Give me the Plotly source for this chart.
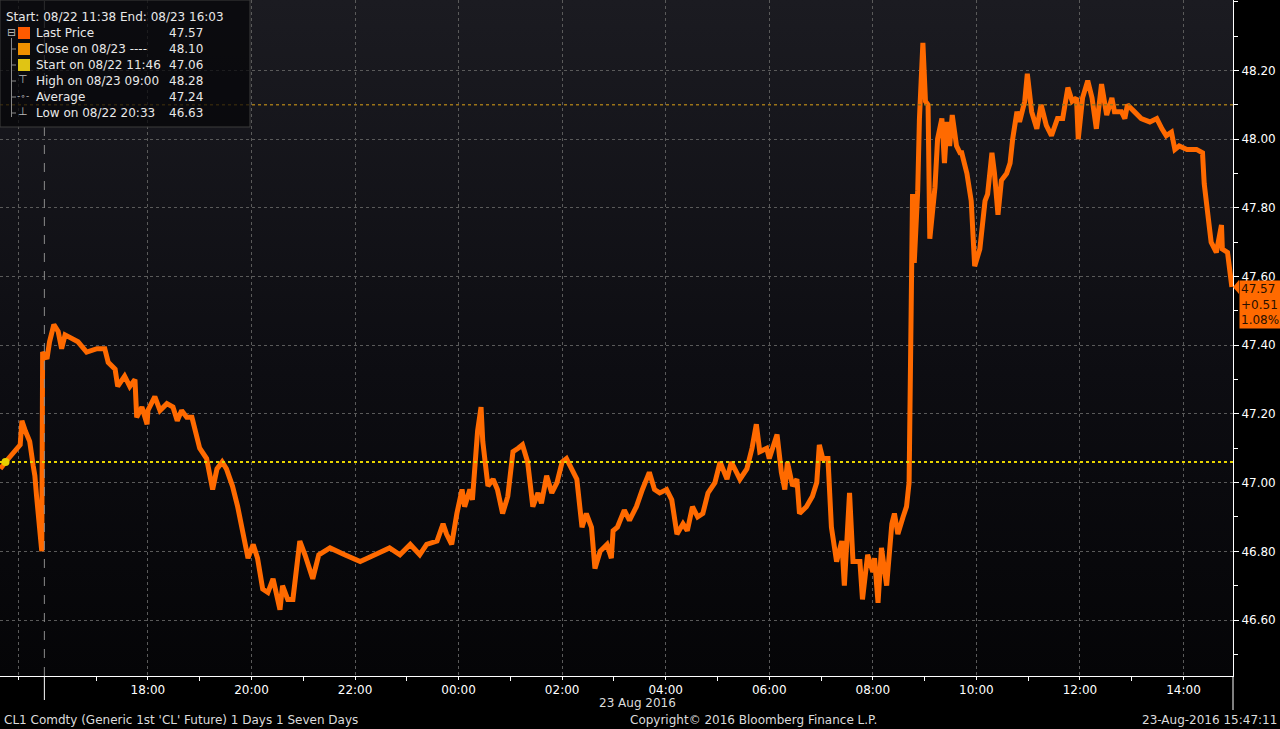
import base64
import plotly.graph_objects as go

# ---------------- data ----------------
DAY1 = "2016-08-22"
DAY2 = "2016-08-23"

times_aug22 = ["15:09", "15:15", "15:32", "15:34", "15:38", "15:43", "15:47", "15:49", "15:51", "15:54",
               "15:57", "15:58", "16:03", "16:06", "16:11", "16:16", "16:20", "16:24", "16:32", "16:39",
               "16:49", "17:01", "17:10", "17:14", "17:22", "17:25", "17:33", "17:39", "17:45", "17:47",
               "17:53", "17:59", "18:00", "18:08", "18:14", "18:22", "18:29", "18:34", "18:39", "18:45",
               "18:51", "18:54", "19:00", "19:08", "19:15", "19:20", "19:26", "19:31", "19:38", "19:44",
               "19:52", "19:56", "20:02", "20:07", "20:13", "20:19", "20:25", "20:33", "20:36", "20:42",
               "20:48", "20:56", "21:02", "21:11", "21:18", "21:31", "21:48", "22:06", "22:23", "22:40",
               "22:52", "23:04", "23:15", "23:23", "23:35", "23:42", "23:46", "23:52", "23:58"]
prices_aug22 = [47.04, 47.06, 47.11, 47.18, 47.15, 47.12, 47.05, 47.02, 46.96, 46.89,
                46.80, 47.38, 47.36, 47.41, 47.46, 47.44, 47.39, 47.43, 47.42, 47.41,
                47.38, 47.39, 47.39, 47.35, 47.33, 47.28, 47.31, 47.28, 47.30, 47.19,
                47.22, 47.17, 47.21, 47.25, 47.21, 47.23, 47.22, 47.18, 47.21, 47.19,
                47.19, 47.16, 47.10, 47.07, 46.98, 47.04, 47.06, 47.04, 46.99, 46.93,
                46.83, 46.78, 46.82, 46.78, 46.69, 46.68, 46.72, 46.63, 46.70, 46.66,
                46.66, 46.83, 46.79, 46.72, 46.79, 46.81, 46.79, 46.77, 46.79, 46.81,
                46.79, 46.82, 46.79, 46.82, 46.83, 46.88, 46.85, 46.82, 46.91]

times_aug23 = ["00:04", "00:07", "00:13", "00:16", "00:22", "00:26", "00:28", "00:34", "00:40", "00:45",
               "00:51", "00:57", "01:03", "01:09", "01:14", "01:20", "01:26", "01:32", "01:36", "01:42",
               "01:48", "01:54", "02:00", "02:05", "02:11", "02:17", "02:23", "02:28", "02:34", "02:38",
               "02:44", "02:52", "02:57", "02:59", "03:04", "03:12", "03:18", "03:26", "03:33", "03:41",
               "03:47", "03:53", "04:01", "04:07", "04:13", "04:20", "04:25", "04:31", "04:37", "04:43",
               "04:49", "04:57", "05:03", "05:11", "05:16", "05:20", "05:26", "05:34", "05:40", "05:45",
               "05:49", "05:57", "06:00", "06:09", "06:14", "06:18", "06:21", "06:27", "06:32", "06:35",
               "06:43", "06:50", "06:55", "06:58", "07:02", "07:08", "07:12", "07:18", "07:24", "07:27",
               "07:33", "07:37", "07:45", "07:48", "07:54", "08:00", "08:02", "08:06", "08:10", "08:16",
               "08:22", "08:25", "08:29", "08:35", "08:39", "08:42", "08:43", "08:44", "08:46", "08:48",
               "08:52", "08:54", "08:58", "09:01", "09:04", "09:06", "09:12", "09:15", "09:20", "09:23",
               "09:26", "09:29", "09:32", "09:37", "09:41", "09:43", "09:49", "09:54", "09:58", "10:04",
               "10:10", "10:13", "10:18", "10:21", "10:25", "10:29", "10:35", "10:39", "10:42", "10:47",
               "10:50", "10:56", "10:59", "11:04", "11:10", "11:15", "11:21", "11:27", "11:34", "11:40",
               "11:46", "11:51", "11:56", "11:58", "12:03", "12:09", "12:14", "12:19", "12:25", "12:31",
               "12:37", "12:40", "12:48", "12:52", "12:55", "13:03", "13:11", "13:21", "13:29", "13:35",
               "13:40", "13:46", "13:50", "13:55", "14:04", "14:15", "14:22", "14:24", "14:28", "14:32",
               "14:38", "14:44", "14:45", "14:51", "14:56"]
prices_aug23 = [46.98, 46.93, 46.98, 46.95, 47.15, 47.22, 47.12, 46.99, 47.01, 46.98,
                46.91, 46.96, 47.09, 47.10, 47.11, 47.06, 46.93, 46.97, 46.94, 47.02,
                46.97, 47.00, 47.06, 47.07, 47.04, 47.01, 46.87, 46.91, 46.87, 46.75,
                46.80, 46.82, 46.78, 46.86, 46.87, 46.92, 46.89, 46.93, 46.98, 47.03,
                46.98, 46.97, 46.98, 46.95, 46.85, 46.88, 46.86, 46.93, 46.90, 46.91,
                46.97, 47.00, 47.06, 47.01, 47.06, 47.04, 47.01, 47.04, 47.10, 47.17,
                47.09, 47.10, 47.07, 47.14, 47.03, 46.98, 47.06, 46.99, 47.01, 46.91,
                46.93, 46.96, 47.00, 47.11, 47.07, 47.07, 46.87, 46.77, 46.83, 46.70,
                46.97, 46.77, 46.77, 46.66, 46.79, 46.74, 46.78, 46.65, 46.81, 46.70,
                46.88, 46.91, 46.85, 46.90, 46.93, 47.00, 47.24, 47.53, 47.84, 47.64,
                47.85, 48.06, 48.28, 48.11, 48.10, 47.71, 47.86, 48.00, 48.06, 47.93,
                48.05, 47.98, 48.07, 47.98, 47.96, 47.96, 47.90, 47.82, 47.63, 47.68,
                47.82, 47.84, 47.96, 47.90, 47.78, 47.88, 47.90, 47.93, 48.00, 48.08,
                48.05, 48.11, 48.19, 48.08, 48.03, 48.10, 48.04, 48.01, 48.06, 48.06,
                48.15, 48.11, 48.12, 48.00, 48.12, 48.17, 48.12, 48.03, 48.16, 48.07,
                48.12, 48.08, 48.08, 48.06, 48.10, 48.08, 48.06, 48.05, 48.06, 48.03,
                48.01, 48.02, 47.97, 47.98, 47.97, 47.97, 47.96, 47.87, 47.77, 47.70,
                47.67, 47.75, 47.68, 47.67, 47.57]

start_time = "2016-08-22 15:15"
start_price = 47.06
close_price = 48.10
session_break = "2016-08-22 16:00"

y_tick_values = [46.60, 46.80, 47.00, 47.20, 47.40, 47.60, 47.80, 48.00, 48.20]
x_tick_times = ["2016-08-22 15:30", "2016-08-22 18:00", "2016-08-22 20:00", "2016-08-22 22:00",
                "2016-08-23 00:00", "2016-08-23 02:00", "2016-08-23 04:00", "2016-08-23 06:00",
                "2016-08-23 08:00", "2016-08-23 10:00", "2016-08-23 12:00", "2016-08-23 14:00"]
x_tick_labels = ["", "18:00", "20:00", "22:00", "00:00", "02:00", "04:00", "06:00",
                 "08:00", "10:00", "12:00", "14:00"]
x_minor_times = ["2016-08-22 17:00", "2016-08-22 19:00", "2016-08-22 21:00", "2016-08-22 23:00",
                 "2016-08-23 01:00", "2016-08-23 03:00", "2016-08-23 05:00", "2016-08-23 07:00",
                 "2016-08-23 09:00", "2016-08-23 11:00", "2016-08-23 13:00"]

legend_title = "Start: 08/22 11:38 End: 08/23 16:03"
legend_labels = ["Last Price", "Close on 08/23 ----", "Start on 08/22 11:46",
                 "High on 08/23 09:00", "Average", "Low on 08/22 20:33"]
legend_values = ["47.57", "48.10", "47.06", "48.28", "47.24", "46.63"]
last_box_text = ["47.57", "+0.51", "1.08%"]

footer_left = "CL1 Comdty (Generic 1st 'CL' Future) 1 Days 1 Seven Days"
footer_mid = "Copyright\u00a9 2016 Bloomberg Finance L.P."
footer_right = "23-Aug-2016 15:47:11"
date_label = "23 Aug 2016"

# ---------------- layout geometry ----------------
W, H = 1280, 729
ML, MR, MT, MB = 0, 47, 0, 53
PW, PH = W - ML - MR, H - MT - MB
FONT = "DejaVu Sans"
ORANGE = "#ff6a00"


def px(x):
    return (x - ML) / PW


def py(y):
    return 1 - (y - MT) / PH


x_vals = [f"{DAY1} {t}" for t in times_aug22] + [f"{DAY2} {t}" for t in times_aug23]
y_vals = prices_aug22 + prices_aug23

fig = go.Figure()
fig.add_trace(go.Scatter(x=x_vals, y=y_vals, mode="lines",
                         line=dict(color=ORANGE, width=5), hoverinfo="x+y"))
fig.add_trace(go.Scatter(x=[start_time], y=[start_price], mode="markers",
                         marker=dict(color="#e8d000", size=8), hoverinfo="skip"))

# background gradient
svg = ('<svg xmlns="http://www.w3.org/2000/svg" width="10" height="100" viewBox="0 0 10 100" '
       'preserveAspectRatio="none"><defs><linearGradient id="g" x1="0" y1="0" x2="0" y2="1">'
       '<stop offset="0" stop-color="#1b1b21"/><stop offset="0.55" stop-color="#0d0d12"/>'
       '<stop offset="1" stop-color="#050507"/></linearGradient></defs>'
       '<rect width="10" height="100" fill="url(#g)"/></svg>')
svg_uri = "data:image/svg+xml;base64," + base64.b64encode(svg.encode()).decode()
fig.add_layout_image(dict(source=svg_uri, xref="paper", yref="paper", x=0, y=1,
                          sizex=1, sizey=1, sizing="stretch", layer="below",
                          xanchor="left", yanchor="top"))

shapes = []
shapes.append(dict(type="line", xref="paper", yref="y", x0=0, x1=1, y0=start_price, y1=start_price,
                   line=dict(color="#e8d400", width=2, dash="dot")))
shapes.append(dict(type="line", xref="paper", yref="y", x0=0, x1=1, y0=close_price, y1=close_price,
                   line=dict(color="#9c7418", width=1.5, dash="dot")))
shapes.append(dict(type="line", xref="x", yref="paper", x0=session_break, x1=session_break, y0=0, y1=1,
                   line=dict(color="#8a8a8a", width=1, dash="dash")))
shapes.append(dict(type="line", xref="x", yref="paper", x0=session_break, x1=session_break,
                   y0=py(700), y1=0, line=dict(color="#ffffff", width=1)))
shapes.append(dict(type="line", xref="paper", yref="paper", x0=1, x1=1, y0=py(710), y1=0,
                   line=dict(color="#ffffff", width=1)))
shapes.append(dict(type="rect", xref="paper", yref="paper", x0=px(0), x1=px(250), y0=py(127), y1=py(0),
                   fillcolor="rgba(6,6,8,0.72)", line=dict(color="#3c3c3c", width=1), layer="above"))
row_y = [33, 49, 65, 81, 97, 113]
square_colors = ["#ff5a00", "#f09000", "#e0c414"]
for yy, c in zip(row_y[:3], square_colors):
    shapes.append(dict(type="rect", xref="paper", yref="paper", x0=px(18), x1=px(30),
                       y0=py(yy + 6), y1=py(yy - 6), fillcolor=c, line=dict(width=0), layer="above"))
shapes.append(dict(type="line", xref="paper", yref="paper", x0=px(11.5), x1=px(11.5),
                   y0=py(117), y1=py(38), line=dict(color="#8a8a8a", width=1), layer="above"))
for yy in row_y[1:]:
    shapes.append(dict(type="line", xref="paper", yref="paper", x0=px(11.5), x1=px(16),
                       y0=py(yy), y1=py(yy), line=dict(color="#8a8a8a", width=1), layer="above"))
shapes.append(dict(type="path", xref="paper", yref="paper",
                   path=f"M {px(1233)},{py(287)} L {px(1239)},{py(280)} L {px(1239)},{py(294)} Z",
                   fillcolor=ORANGE, line=dict(width=0), layer="above"))

annotations = []
txt = dict(family=FONT, size=12, color="#e8e8e8")
annotations.append(dict(text=legend_title, xref="paper", yref="paper", x=px(4), y=py(17),
                        xanchor="left", yanchor="middle", showarrow=False, font=txt))
for yy, lab, val in zip(row_y, legend_labels, legend_values):
    annotations.append(dict(text=lab, xref="paper", yref="paper", x=px(34), y=py(yy),
                            xanchor="left", yanchor="middle", showarrow=False, font=txt))
    annotations.append(dict(text=val, xref="paper", yref="paper", x=px(167), y=py(yy),
                            xanchor="left", yanchor="middle", showarrow=False, font=txt))
glyph_font = dict(family=FONT, size=11, color="#bbbbbb")
annotations.append(dict(text="\u229f", xref="paper", yref="paper", x=px(11.5), y=py(32),
                        xanchor="center", yanchor="middle", showarrow=False, font=glyph_font))
annotations.append(dict(text="\u22a4", xref="paper", yref="paper", x=px(23), y=py(80),
                        xanchor="center", yanchor="middle", showarrow=False, font=glyph_font))
annotations.append(dict(text="-\u2218-", xref="paper", yref="paper", x=px(23), y=py(96),
                        xanchor="center", yanchor="middle", showarrow=False,
                        font=dict(family=FONT, size=9, color="#bbbbbb")))
annotations.append(dict(text="\u22a5", xref="paper", yref="paper", x=px(23), y=py(112),
                        xanchor="center", yanchor="middle", showarrow=False, font=glyph_font))

annotations.append(dict(text="<br>".join(last_box_text), xref="paper", yref="paper",
                        x=px(1239), y=py(280), xanchor="left", yanchor="top", align="left",
                        showarrow=False, bgcolor=ORANGE, borderpad=1,
                        font=dict(family=FONT, size=12, color="#2a1000")))

foot = dict(family=FONT, size=12, color="#dcdcdc")
annotations.append(dict(text=date_label, xref="paper", yref="paper", x=px(637), y=py(703),
                        xanchor="center", yanchor="middle", showarrow=False, font=foot))
annotations.append(dict(text=footer_left, xref="paper", yref="paper", x=px(2), y=py(720),
                        xanchor="left", yanchor="middle", showarrow=False, font=foot))
annotations.append(dict(text=footer_mid, xref="paper", yref="paper", x=px(628), y=py(720),
                        xanchor="left", yanchor="middle", showarrow=False, font=foot))
annotations.append(dict(text=footer_right, xref="paper", yref="paper", x=px(1279), y=py(720),
                        xanchor="right", yanchor="middle", showarrow=False, font=foot))

fig.update_layout(
    width=W, height=H,
    margin=dict(l=ML, r=MR, t=MT, b=MB, pad=0),
    paper_bgcolor="#000000",
    plot_bgcolor="rgba(0,0,0,0)",
    showlegend=False,
    font=dict(family=FONT, size=12, color="#ffffff"),
    shapes=shapes,
    annotations=annotations,
    xaxis=dict(
        type="date",
        range=["2016-08-22 15:08:36", "2016-08-23 14:57:20"],
        tickmode="array", tickvals=x_tick_times, ticktext=x_tick_labels,
        tickfont=dict(family=FONT, size=12, color="#ffffff"),
        ticks="outside", ticklen=3, tickcolor="#ffffff",
        showline=True, linecolor="#ffffff", linewidth=1,
        showgrid=True, gridcolor="#5a5a5a", griddash="dot", gridwidth=1,
        minor=dict(tickmode="array", tickvals=x_minor_times, ticks="outside", ticklen=4,
                   tickcolor="#ffffff", showgrid=False),
        zeroline=False, fixedrange=True,
    ),
    yaxis=dict(
        side="right",
        range=[46.437, 48.405],
        tickmode="array", tickvals=y_tick_values,
        ticktext=[f"{v:.2f}" for v in y_tick_values],
        tickfont=dict(family=FONT, size=12, color="#ffffff"),
        ticks="outside", ticklen=5, tickcolor="#ffffff",
        showline=True, linecolor="#ffffff", linewidth=1,
        showgrid=True, gridcolor="#5a5a5a", griddash="dot", gridwidth=1,
        minor=dict(tick0=46.5, dtick=0.1, ticks="outside", ticklen=4,
                   tickcolor="#ffffff", showgrid=False),
        zeroline=False, fixedrange=True,
    ),
)

fig.write_html("out.html", config={"displayModeBar": False},
               post_script="document.body.style.margin='0';document.body.style.overflow='hidden';")
